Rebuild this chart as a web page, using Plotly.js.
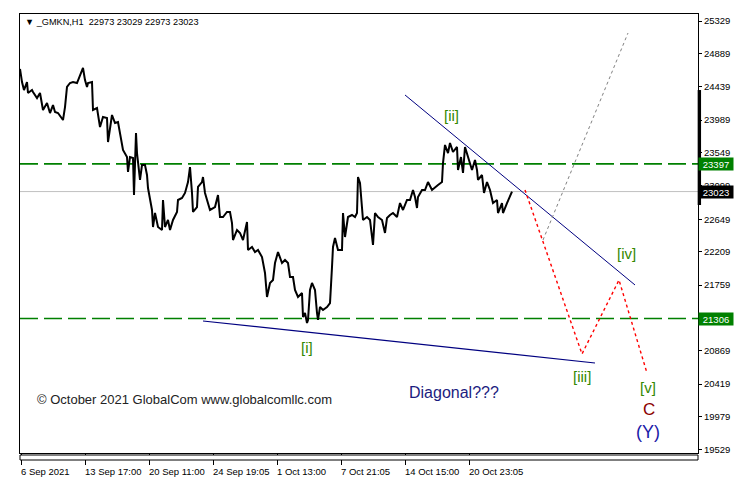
<!DOCTYPE html>
<html><head><meta charset="utf-8">
<script src="https://cdn.plot.ly/plotly-3.0.1.min.js"></script>
<style>html,body{margin:0;padding:0;background:#fff;} #chart{width:756px;height:480px;}</style>
</head><body><div id="chart"></div>
<script>
// ---- data (bar index from chart start, price) ----
const barIdx = [0,2,4,7,8,12,13,17,20,23,27,30,33,35,38,43,45,47,50,53,57,60,63,65,67,68,72,73,77,80,83,87,88,92,95,98,101,103,107,108,110,113,114,116,117,120,122,125,127,128,132,133,135,138,142,143,145,148,150,153,157,158,162,165,168,170,172,173,177,178,182,183,185,188,190,195,198,200,203,207,210,212,213,217,220,223,227,228,232,235,238,242,245,247,250,253,255,258,262,265,268,270,273,275,278,282,283,285,287,288,290,292,295,297,298,300,303,307,310,312,313,315,318,322,323,325,328,332,335,337,338,340,342,343,347,350,353,355,358,362,365,367,370,373,377,380,383,387,390,393,395,397,398,402,405,408,412,415,418,422,423,425,428,430,433,437,438,441,443,445,447,448,452,455,457,458,462,464,467,470,472,473,477,478,482,483,487,490,492];
const closePrice = [24680,24504,24396,24504,24356,24396,24369,24288,24356,24126,24220,24085,24193,24099,24085,23991,24166,24437,24491,24504,24491,24599,24694,24531,24437,24491,24504,24126,24153,23896,24031,24018,23693,24058,23950,23964,23761,23585,23490,23288,23490,23477,22977,23815,23544,23180,23382,23382,23247,23071,22774,22544,22733,22544,22504,22909,22544,22639,22504,22639,22747,22909,22936,23004,23152,23355,23004,22747,22814,23085,23152,23220,23004,22882,22774,22814,22977,22679,22679,22747,22747,22598,22368,22504,22463,22368,22612,22233,22274,22206,22233,22138,21922,21598,21787,21827,22057,22206,22057,22098,22057,21868,21868,21692,21598,21652,21327,21381,21246,21287,21692,21787,21692,21381,21287,21462,21422,21462,21516,22003,22274,22395,22233,22233,22733,22409,22679,22706,22679,22733,23220,23139,22814,22639,22679,22639,22301,22733,22679,22639,22463,22666,22706,22733,22679,22868,22774,22909,22909,23044,22950,22801,22950,23044,23044,23152,23044,23085,23112,23152,23409,23653,23544,23680,23558,23626,23315,23490,23274,23626,23544,23490,23315,23450,23315,23180,23247,23004,23152,23044,22909,22868,22909,22733,22868,22733,22868,22950,23023];

const priceTicks = [25329,24889,24439,23989,23549,23099,22649,22209,21759,21309,20869,20419,19979,19529];
const timeTickIdx = [1,65,129,193,257,321,385,449];
const timeTickText = ['6 Sep 2021','13 Sep 17:00','20 Sep 11:00','24 Sep 19:05','1 Oct 13:00','7 Oct 21:05','14 Oct 15:00','20 Oct 23:05'];

const levelPrices = [23397, 21306];
const lastPrice = 23023;
const headerText = '\u25BC _GMKN,H1\u00a0\u00a022973 23029 22973 23023';

const upperTrendIdx = [385, 615], upperTrendPrice = [24329, 21760];
const lowerTrendIdx = [183, 575], lowerTrendPrice = [21273, 20705];
const bearPathIdx = [505, 562, 599, 627], bearPathPrice = [23044, 20827, 21827, 20570];
const bullPathIdx = [523, 608], bullPathPrice = [22368, 25167];

const waveText = ['[i]', '[ii]', '[iii]', '[iv]', '[v]'];
const waveIdx = [287, 431, 562, 606, 628];
const wavePrice = [20908, 24058, 20529, 22179, 20367];

const xRange = [0, 678];
const yRange = [19488, 25424];

// ---- traces ----
const traces = [
  {x: barIdx, y: closePrice, type: 'scatter', mode: 'lines', line: {color: '#000', width: 2}, hoverinfo: 'skip'},
  {x: upperTrendIdx, y: upperTrendPrice, type: 'scatter', mode: 'lines', line: {color: '#000080', width: 1}},
  {x: lowerTrendIdx, y: lowerTrendPrice, type: 'scatter', mode: 'lines', line: {color: '#000080', width: 1.2}},
  {x: bullPathIdx, y: bullPathPrice, type: 'scatter', mode: 'lines', line: {color: '#808080', width: 1, dash: '3px,3px'}},
  {x: bearPathIdx, y: bearPathPrice, type: 'scatter', mode: 'lines', line: {color: '#ff0000', width: 1.4, dash: '3px,3px'}}
];

const F = 'Liberation Sans, Arial, sans-serif';
const shapes = [];
levelPrices.forEach(p => shapes.push({type: 'line', xref: 'paper', x0: 0, x1: 1, yref: 'y', y0: p, y1: p,
  line: {color: '#008000', width: 1.6, dash: '18px,6px'}, layer: 'below'}));
shapes.push({type: 'line', xref: 'paper', x0: 0, x1: 1, yref: 'y', y0: lastPrice, y1: lastPrice,
  line: {color: '#c0c0c0', width: 1}, layer: 'below'});
// scroll strip under the plot
shapes.push({type: 'rect', xref: 'paper', x0: 0, x1: 1, yref: 'paper', y0: -2/439, y1: -7/439,
  fillcolor: '#fff', line: {color: '#000', width: 1}, layer: 'above'});
// thick bar on the price scale
shapes.push({type: 'rect', xref: 'paper', x0: 0.9995, x1: 1.0045, yref: 'y', y0: 22841, y1: 24396,
  fillcolor: '#000', line: {width: 0}, layer: 'above'});

const annotations = [];
annotations.push({xref: 'paper', yref: 'paper', x: 3/678, y: 1 - 8/439, xanchor: 'left', yanchor: 'middle',
  text: headerText, showarrow: false, font: {family: F, size: 9.2, color: '#000'}});
waveText.forEach((t, i) => annotations.push({x: waveIdx[i], y: wavePrice[i], text: t, showarrow: false,
  font: {family: F, size: 15, color: '#338800'}}));
annotations.push({x: 629, y: 20083, text: 'C', showarrow: false, font: {family: F, size: 17, color: '#8b0000'}});
annotations.push({x: 628, y: 19772, text: '(Y)', showarrow: false, font: {family: F, size: 18, color: '#1a1aa8'}});
annotations.push({x: 434, y: 20300, text: 'Diagonal???', showarrow: false, font: {family: F, size: 16, color: '#1c1c80'}});
annotations.push({x: 15, y: 20205, xanchor: 'left', text: '\u00a9 October 2021 GlobalCom www.globalcomllc.com',
  showarrow: false, font: {family: F, size: 13, color: '#222'}});
// time labels, left-aligned at their ticks
timeTickText.forEach((t, i) => annotations.push({xref: 'x', x: timeTickIdx[i], xanchor: 'left', xshift: -2,
  yref: 'paper', y: -18/439, yanchor: 'middle', text: t, showarrow: false,
  font: {family: F, size: 9.5, color: '#000'}}));
// price labels on scale
const boxes = [[levelPrices[0], '#008000'], [lastPrice, '#000000'], [levelPrices[1], '#008000']];
boxes.forEach(b => annotations.push({xref: 'paper', x: 1, xshift: 0, xanchor: 'left', yref: 'y', y: b[0],
  text: String(b[0]), showarrow: false, bgcolor: b[1], borderpad: 1, width: 32, height: 10,
  font: {family: F, size: 9.5, color: '#fff'}}));

const layout = {
  width: 756, height: 480,
  margin: {l: 20, r: 58, t: 14, b: 27, pad: 0},
  paper_bgcolor: '#fff', plot_bgcolor: '#fff',
  showlegend: false,
  font: {family: F, size: 9.5, color: '#000'},
  xaxis: {range: xRange, showgrid: false, zeroline: false, showline: true, mirror: true,
    linecolor: '#000', linewidth: 1, tickmode: 'array', tickvals: timeTickIdx,
    ticks: 'outside', ticklen: 11, tickcolor: '#000', tickwidth: 1, showticklabels: false,
    automargin: false, fixedrange: true},
  yaxis: {range: yRange, side: 'right', showgrid: false, zeroline: false, showline: true, mirror: true,
    linecolor: '#000', linewidth: 1, tickmode: 'array', tickvals: priceTicks, ticktext: priceTicks.map(String),
    ticks: 'outside', ticklen: 3, tickcolor: '#000', automargin: false,
    tickfont: {family: F, size: 9.5, color: '#000'}, fixedrange: true},
  shapes: shapes,
  annotations: annotations
};

Plotly.newPlot('chart', traces, layout, {staticPlot: true, displayModeBar: false});
</script>
</body></html>
